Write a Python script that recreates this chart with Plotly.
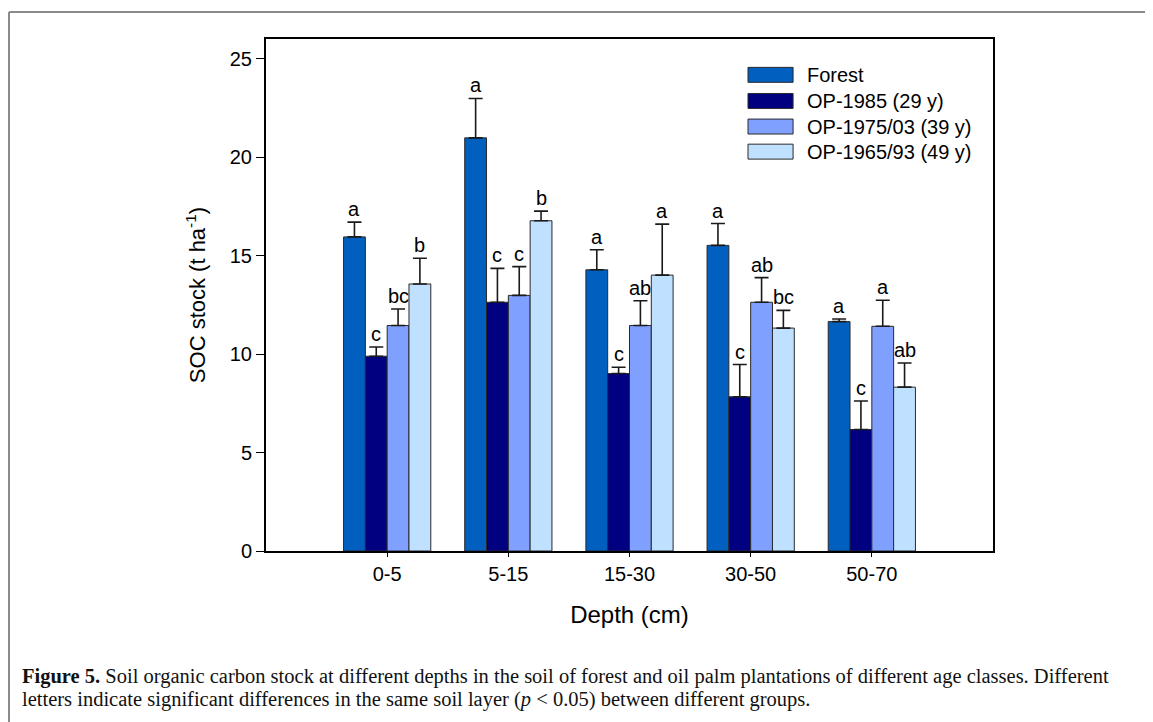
import plotly.graph_objects as go

categories = ["0-5", "5-15", "15-30", "30-50", "50-70"]
series_names = ["Forest", "OP-1985 (29 y)", "OP-1975/03 (39 y)", "OP-1965/93 (49 y)"]
colors = ["#005FBF", "#000080", "#80A0FF", "#C0E0FF"]

forest = [15.95, 20.98, 14.28, 15.52, 11.65]
forest_err = [0.75, 2.0, 1.02, 1.11, 0.13]
op1985 = [9.89, 12.63, 9.01, 7.83, 6.17]
op1985_err = [0.47, 1.72, 0.32, 1.64, 1.45]
op1975 = [11.45, 12.98, 11.45, 12.63, 11.41]
op1975_err = [0.84, 1.46, 1.26, 1.25, 1.32]
op1965 = [13.56, 16.77, 14.01, 11.32, 8.32]
op1965_err = [1.31, 0.49, 2.59, 0.90, 1.23]

forest_letters = ["a", "a", "a", "a", "a"]
op1985_letters = ["c", "c", "c", "c", "c"]
op1975_letters = ["bc", "c", "ab", "ab", "a"]
op1965_letters = ["b", "b", "a", "bc", "ab"]

values = [forest, op1985, op1975, op1965]
errors = [forest_err, op1985_err, op1975_err, op1965_err]
letters = [forest_letters, op1985_letters, op1975_letters, op1965_letters]

FONT = "Liberation Sans, Arial, sans-serif"
BARGAP = 0.28

fig = go.Figure()
for name, col, vals, errs in zip(series_names, colors, values, errors):
    fig.add_trace(go.Bar(
        x=categories, y=vals, name=name,
        marker=dict(color=col, line=dict(color="#2a2a2a", width=1)),
        error_y=dict(type="data", symmetric=False, array=errs,
                     arrayminus=[0] * len(errs), color="#1a1a1a",
                     thickness=1.6, width=7),
        showlegend=False,
    ))

# letters above error bars
n = len(series_names)
bw = (1 - BARGAP) / n
annotations = []
for si in range(n):
    off = (si - (n - 1) / 2) * bw
    for ci in range(len(categories)):
        annotations.append(dict(
            x=ci + off, y=values[si][ci] + errors[si][ci], xref="x", yref="y",
            text=letters[si][ci], showarrow=False, yanchor="bottom",
            yshift=0, font=dict(family=FONT, size=20, color="black")))

# custom legend (wide swatches as in the original)
shapes = []
leg_y = [0.930, 0.879, 0.829, 0.780]
for name, col, yy in zip(series_names, colors, leg_y):
    shapes.append(dict(type="rect", xref="paper", yref="paper",
                       x0=0.663, x1=0.725, y0=yy - 0.0146, y1=yy + 0.0146,
                       fillcolor=col, line=dict(color="#2a2a2a", width=1)))
    annotations.append(dict(x=0.741, y=yy, xref="paper", yref="paper",
                            text=name, showarrow=False, xanchor="left",
                            yanchor="middle",
                            font=dict(family=FONT, size=20, color="black")))

# outer figure frame
shapes.append(dict(type="line", xref="paper", yref="paper",
                   x0=-0.3535, x1=1.3, y0=1.0527, y1=1.0527,
                   line=dict(color="#8a8a8a", width=2)))
shapes.append(dict(type="line", xref="paper", yref="paper",
                   x0=-0.3535, x1=-0.3535, y0=1.0527, y1=-0.5,
                   line=dict(color="#8a8a8a", width=2)))

# caption
CAP = "Liberation Serif, Times New Roman, serif"
annotations.append(dict(
    x=-0.3384, y=-0.246, xref="paper", yref="paper", xanchor="left",
    yanchor="middle", showarrow=False,
    text="<b>Figure 5.</b> Soil organic carbon stock at different depths in the soil of forest and oil palm plantations of different age classes. Different",
    font=dict(family=CAP, size=20.5, color="#111")))
annotations.append(dict(
    x=-0.3384, y=-0.291, xref="paper", yref="paper", xanchor="left",
    yanchor="middle", showarrow=False,
    text="letters indicate significant differences in the same soil layer (<i>p</i> &lt; 0.05) between different groups.",
    font=dict(family=CAP, size=20.5, color="#111")))

# the page body has an 8px default margin, so the figure is 8px smaller
fig.update_layout(
    width=1145, height=714,
    margin=dict(l=258, r=160, t=31, b=171),
    paper_bgcolor="white", plot_bgcolor="white",
    barmode="group", bargap=BARGAP, bargroupgap=0,
    font=dict(family=FONT, size=20, color="black"),
    shapes=shapes, annotations=annotations,
    xaxis=dict(
        range=[-1, 5], showline=True, linecolor="black", linewidth=2,
        mirror=True, ticks="outside", ticklen=4, tickcolor="black",
        tickfont=dict(family=FONT, size=20), showgrid=False, zeroline=False,
        title=dict(text="Depth (cm)", font=dict(family=FONT, size=24), standoff=22),
    ),
    yaxis=dict(
        range=[0, 26], dtick=5, showline=True, linecolor="black", linewidth=2,
        mirror=True, ticks="outside", ticklen=8, tickcolor="black",
        tickfont=dict(family=FONT, size=20), showgrid=False, zeroline=False,
        title=dict(text="SOC stock (t ha<sup>-1</sup>)", font=dict(family=FONT, size=22), standoff=18),
    ),
)

fig.write_html("out.html")
